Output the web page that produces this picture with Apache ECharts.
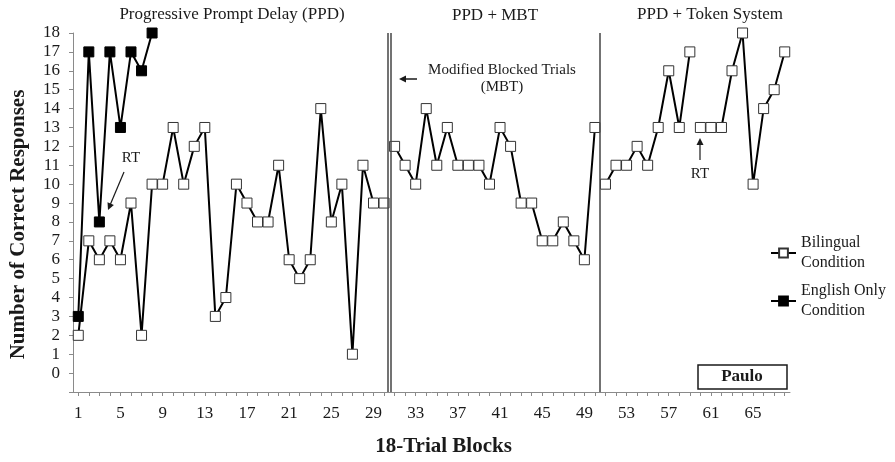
<!DOCTYPE html>
<html>
<head>
<meta charset="utf-8">
<script src="https://cdn.jsdelivr.net/npm/echarts@6/dist/echarts.min.js"></script>
<style>html,body{margin:0;padding:0;background:#fff;}#c{width:895px;height:462px;}</style>
</head>
<body>
<div id="c"></div>
<script>
// ---- data ----
const blocks = Array.from({length: 68}, (_, i) => i + 1);
const bilingual = [2,7,6,7,6,9,2,10,10,13,10,12,13,3,4,10,9,8,8,11,6,5,6,14,8,10,1,11,9,9,
  12,11,10,14,11,13,11,11,11,10,13,12,9,9,7,7,8,7,6,13,
  10,11,11,12,11,13,16,13,17,13,13,13,16,18,10,14,15,17];
const englishOnly = [3,17,8,17,13,17,16,18];
const breakAfter = [30, 50, 59];           // line breaks (phase changes / reversal)
const phaseLines = [30.35, 30.65, 50.5];  // double line after block 30, single line after 50
const xTickLabels = [1,5,9,13,17,21,25,29,33,37,41,45,49,53,57,61,65];
const yTickLabels = [0,1,2,3,4,5,6,7,8,9,10,11,12,13,14,15,16,17,18];
const phaseTitles = ['Progressive Prompt Delay (PPD)', 'PPD + MBT', 'PPD + Token System'];
const seriesNames = ['Bilingual\nCondition', 'English Only\nCondition'];

const bilData = [];
blocks.forEach((b, i) => {
  bilData.push([b, bilingual[i]]);
  if (breakAfter.includes(b)) bilData.push([b + 0.5, '-']);
});
const engData = englishOnly.map((v, i) => [blocks[i], v]);

const serif = '"Liberation Serif", "DejaVu Serif", serif';
const ink = '#1a1a1a';

const chart = echarts.init(document.getElementById('c'), null, {renderer: 'canvas'});
chart.setOption({
  animation: false,
  backgroundColor: '#fff',
  grid: {left: 73, right: 105, top: 33, bottom: 66, containLabel: false},
  legend: {
    orient: 'vertical', left: 770, top: 223, padding: 0, itemWidth: 25, itemHeight: 11, itemGap: -12,
    data: seriesNames,
    textStyle: {fontFamily: serif, fontSize: 16, lineHeight: 20, color: ink, padding: [20, 0, 0, 0]}
  },
  xAxis: {
    type: 'value', min: 0.5, max: 68.5,
    name: '18-Trial Blocks', nameLocation: 'middle', nameGap: 44,
    nameTextStyle: {fontFamily: serif, fontSize: 21, fontWeight: 'bold', color: ink, padding: [0, 0, 0, 24]},
    axisLine: {onZero: false, lineStyle: {color: '#8a8a8a', width: 1}},
    axisTick: {show: true, length: 4, customValues: blocks, lineStyle: {color: '#8a8a8a'}},
    axisLabel: {customValues: xTickLabels, fontFamily: serif, fontSize: 17, color: ink, margin: 13},
    splitLine: {show: false}
  },
  yAxis: {
    type: 'value', min: -1, max: 18, interval: 1,
    name: 'Number of Correct Responses', nameLocation: 'middle', nameGap: 44, nameRotate: 90,
    nameTextStyle: {fontFamily: serif, fontSize: 21, fontWeight: 'bold', color: ink, padding: [0, 24, 0, 0]},
    axisLine: {show: true, lineStyle: {color: '#8a8a8a', width: 1}},
    axisTick: {show: true, length: 4, lineStyle: {color: '#8a8a8a'}},
    axisLabel: {fontFamily: serif, fontSize: 17, color: ink, margin: 13,
      formatter: v => (yTickLabels.includes(v) ? String(v) : '')},
    splitLine: {show: false}
  },
  series: [
    {
      name: seriesNames[0], type: 'line', data: bilData, connectNulls: false,
      symbol: 'rect', symbolSize: 10,
      lineStyle: {color: '#000', width: 2},
      itemStyle: {color: '#fff', borderColor: '#333', borderWidth: 1},
      z: 3,
      markLine: {
        silent: true, symbol: 'none', label: {show: false},
        lineStyle: {color: '#444', width: 1.5, type: 'solid'},
        data: phaseLines.map(x => ({xAxis: x}))
      }
    },
    {
      name: seriesNames[1], type: 'line', data: engData,
      symbol: 'rect', symbolSize: 10,
      lineStyle: {color: '#000', width: 2},
      itemStyle: {color: '#000', borderColor: '#000', borderWidth: 1},
      z: 4
    }
  ],
  graphic: [
    {type: 'text', x: 232, y: 15, style: {text: phaseTitles[0], font: '17px ' + serif, fill: ink, align: 'center', verticalAlign: 'middle'}},
    {type: 'text', x: 495, y: 16, style: {text: phaseTitles[1], font: '17px ' + serif, fill: ink, align: 'center', verticalAlign: 'middle'}},
    {type: 'text', x: 710, y: 15, style: {text: phaseTitles[2], font: '17px ' + serif, fill: ink, align: 'center', verticalAlign: 'middle'}},
    {type: 'text', x: 502, y: 70, style: {text: 'Modified Blocked Trials', font: '15px ' + serif, fill: ink, align: 'center', verticalAlign: 'middle'}},
    {type: 'text', x: 502, y: 87, style: {text: '(MBT)', font: '15px ' + serif, fill: ink, align: 'center', verticalAlign: 'middle'}},
    {type: 'line', shape: {x1: 405, y1: 79, x2: 417, y2: 79}, style: {stroke: ink, lineWidth: 1.5}},
    {type: 'polygon', shape: {points: [[399, 79], [406, 75.5], [406, 82.5]]}, style: {fill: ink}},
    {type: 'text', x: 131, y: 158, style: {text: 'RT', font: '15px ' + serif, fill: ink, align: 'center', verticalAlign: 'middle'}},
    {type: 'line', shape: {x1: 124, y1: 172, x2: 110.5, y2: 204}, style: {stroke: ink, lineWidth: 1.2}},
    {type: 'polygon', shape: {points: [[108, 210], [113.9, 204.9], [107.5, 202.2]]}, style: {fill: ink}},
    {type: 'text', x: 700, y: 174, style: {text: 'RT', font: '15px ' + serif, fill: ink, align: 'center', verticalAlign: 'middle'}},
    {type: 'line', shape: {x1: 700, y1: 160, x2: 700, y2: 144}, style: {stroke: ink, lineWidth: 1.2}},
    {type: 'polygon', shape: {points: [[700, 138], [696.5, 145], [703.5, 145]]}, style: {fill: ink}},
    {type: 'rect', shape: {x: 698, y: 365, width: 89, height: 24}, style: {fill: '#fff', stroke: ink, lineWidth: 1.5}},
    {type: 'text', x: 742, y: 377, style: {text: 'Paulo', font: 'bold 17px ' + serif, fill: ink, align: 'center', verticalAlign: 'middle'}}
  ]
});
</script>
</body>
</html>
